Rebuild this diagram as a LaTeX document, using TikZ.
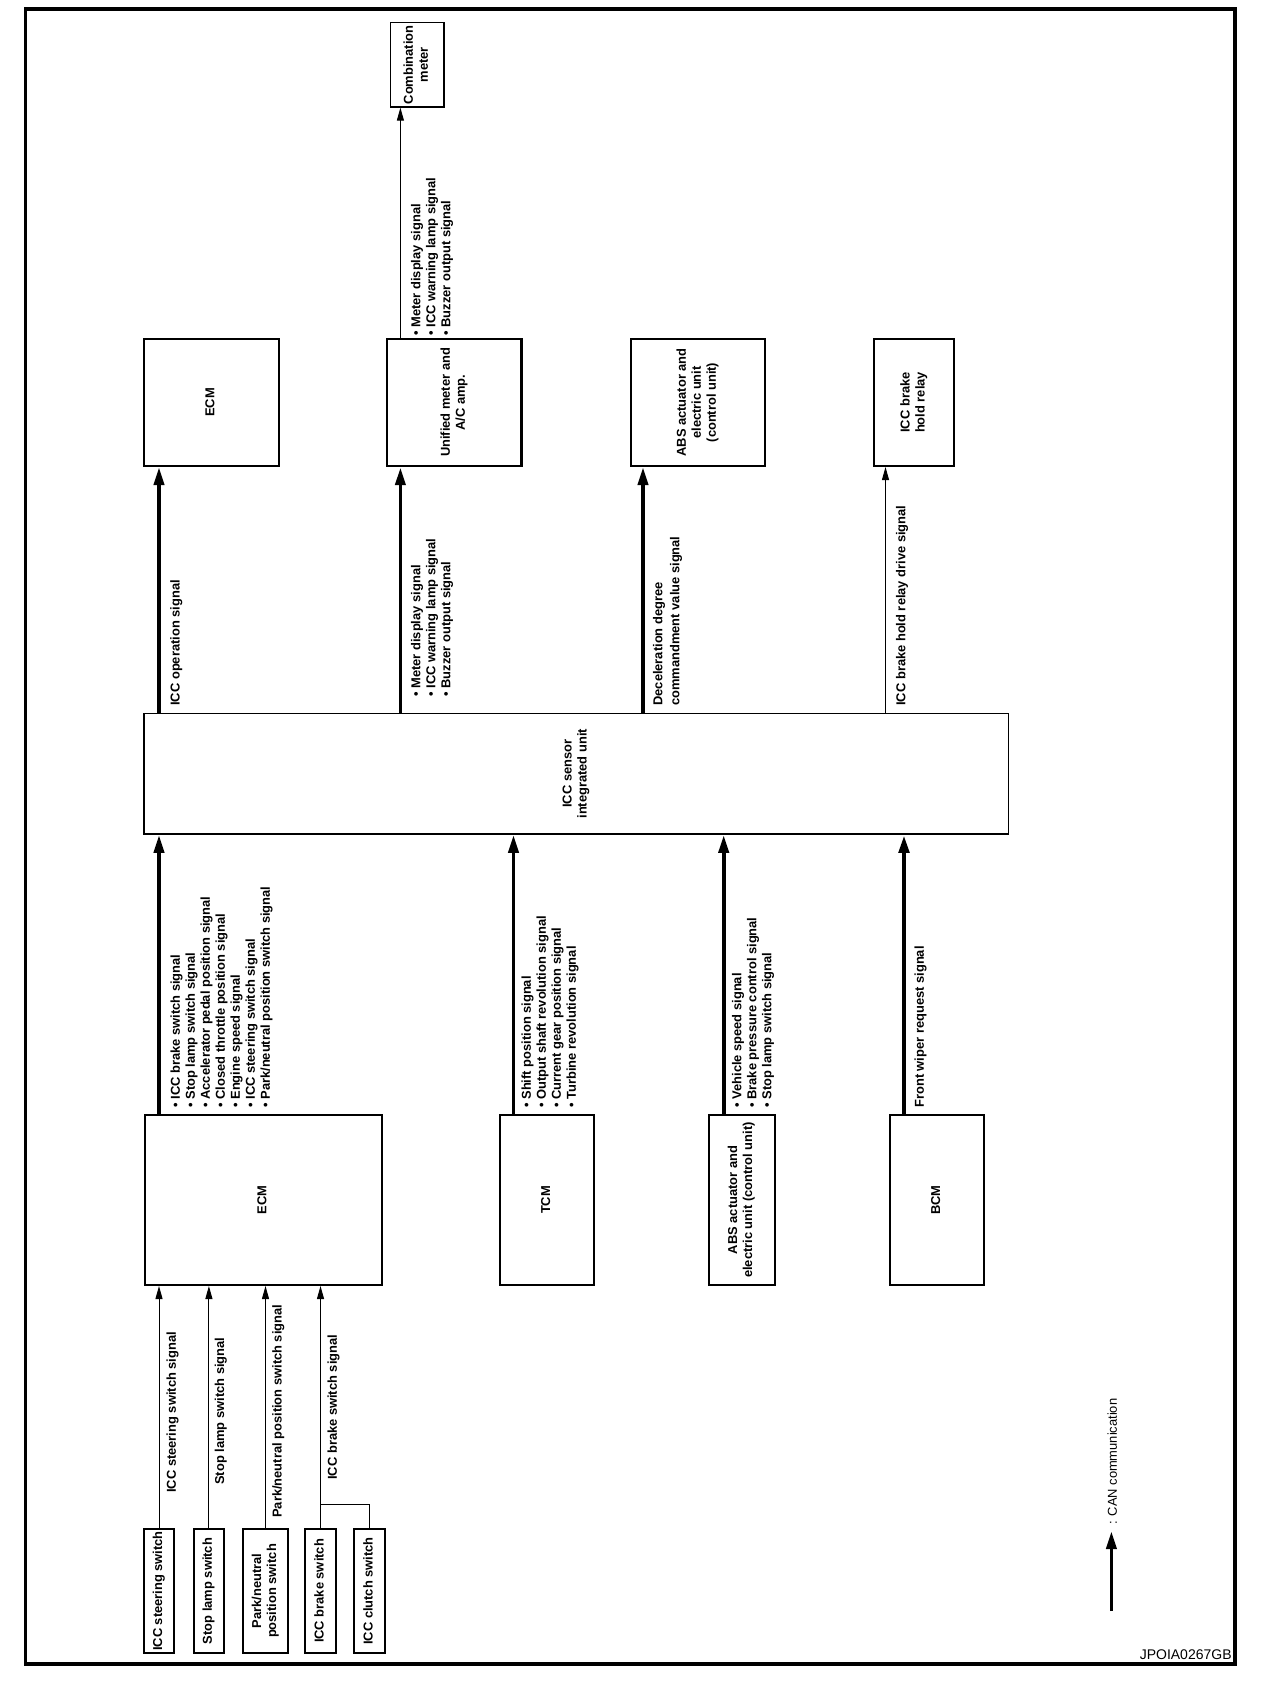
\documentclass[tikz,border=0pt]{standalone}
\usepackage{fontspec}
\setmainfont{Liberation Sans}
\usetikzlibrary{arrows.meta,calc}
\newcommand{\sigfont}{\fontsize{6.45}{7.5}\selectfont\bfseries}
\newcommand{\vtext}[1]{\rotatebox{90}{\begin{tabular}{@{}c@{}}#1\end{tabular}}}

\begin{document}
\begin{tikzpicture}[
    x=0.5pt, y=-0.5pt,
    unit/.style={rectangle, draw, line width=1pt, inner sep=0pt, font=\sigfont},
    sig/.style={anchor=north west, rotate=90, inner sep=0pt, align=left, font=\sigfont},
    can/.style={line width=1.9pt, -{Triangle[length=9pt, width=5pt]}},
    wire/.style={line width=0.5pt, -{Triangle[length=6.5pt, width=3.5pt]}}
]
    \useasboundingbox (0,0) rectangle (1280,1698);
    \draw[line width=1.65pt] (25.3,9) rectangle (1235,1664);

    % Output units
    \node[unit, line width=0.6pt, minimum width=26.7pt, minimum height=42.25pt] (comb) at (417.3,64.8) {\vtext{Combination\\meter}};
    \node[unit, minimum width=67.65pt, minimum height=63.5pt] (ecmT) at (211.4,402.5) {\vtext{ECM}};
    \node[unit, line width=1.2pt, minimum width=67.3pt, minimum height=63.5pt] (umeter) at (454.3,402.5) {\vtext{Unified meter and\\A/C amp.}};
    \node[unit, minimum width=67.2pt, minimum height=63.5pt] (absT) at (697.8,402.5) {\vtext{ABS actuator and\\electric unit\\(control unit)}};
    \node[unit, minimum width=40pt, minimum height=63.5pt] (relay) at (914,402.5) {\vtext{ICC brake\\hold relay}};

    % Integrated unit
    \node[unit, line width=0.8pt, minimum width=432.45pt, minimum height=60.3pt] (icc) at (576.2,773.7) {\vtext{ICC sensor\\integrated unit}};

    % Input units
    \node[unit, minimum width=118.3pt, minimum height=85pt] (ecmB) at (263.3,1200) {\vtext{ECM}};
    \node[unit, minimum width=47pt, minimum height=85pt] (tcm) at (547,1200) {\vtext{TCM}};
    \node[unit, minimum width=33.05pt, minimum height=85pt] (absB) at (741.7,1200) {\vtext{ABS actuator and\\electric unit (control unit)}};
    \node[unit, minimum width=47pt, minimum height=85pt] (bcm) at (937,1200) {\vtext{BCM}};

    % Switches
    \node[unit, minimum width=15.3pt, minimum height=62pt] (sw1) at (159,1591) {\vtext{ICC steering switch}};
    \node[unit, minimum width=14.85pt, minimum height=62pt] (sw2) at (208.9,1591) {\vtext{Stop lamp switch}};
    \node[unit, minimum width=22.5pt, minimum height=62pt] (sw3) at (265.5,1591) {\vtext{Park/neutral\\position switch}};
    \node[unit, minimum width=15.5pt, minimum height=62pt] (sw4) at (320.5,1591) {\vtext{ICC brake switch}};
    \node[unit, minimum width=15.5pt, minimum height=62pt] (sw5) at (369.5,1591) {\vtext{ICC clutch switch}};

    % Signal columns
    \coordinate (xe) at (159,0);
    \coordinate (xu) at (400.4,0);
    \coordinate (xa) at (643,0);
    \coordinate (xr) at (885.5,0);
    \coordinate (xt) at (513.5,0);
    \coordinate (xb) at (723.7,0);
    \coordinate (xc) at (904,0);

    % Arrows out of the integrated unit
    \draw[can] (icc.north -| xe) -- (ecmT.south -| xe);
    \draw[can] (icc.north -| xu) -- (umeter.south -| xu);
    \draw[can] (icc.north -| xa) -- (absT.south -| xa);
    \draw[wire] (icc.north -| xr) -- (relay.south -| xr);
    \draw[wire] (umeter.north -| xu) -- (comb.south -| xu);

    % Arrows into the integrated unit
    \draw[can] (ecmB.north -| xe) -- (icc.south -| xe);
    \draw[can] (tcm.north -| xt) -- (icc.south -| xt);
    \draw[can] (absB.north -| xb) -- (icc.south -| xb);
    \draw[can, line width=2.2pt] (bcm.north -| xc) -- (icc.south -| xc);

    % Switch wires
    \draw[wire] (sw1.north) -- (sw1.north |- ecmB.south);
    \draw[wire] (sw2.north) -- (sw2.north |- ecmB.south);
    \draw[wire] (sw3.north) -- (sw3.north |- ecmB.south);
    \draw[wire] (sw4.north) -- (sw4.north |- ecmB.south);
    \draw[line width=0.5pt] (sw5.north) -- ++(0,-24) -| (sw4.north);

    % Signal labels
    \node[sig] (opsig) at (170,706) {ICC operation signal};
    \node[sig] (mtrsig) at (410.5,697) {\textbullet\ Meter display signal\\\textbullet\ ICC warning lamp signal\\\textbullet\ Buzzer output signal};
    \node[sig] (combsig) at (410.5,336) {\textbullet\ Meter display signal\\\textbullet\ ICC warning lamp signal\\\textbullet\ Buzzer output signal};
    \node[sig] (decsig) at (652.5,706) {Deceleration degree\\[1pt]commandment value signal};
    \node[sig] (relsig) at (895.5,706) {ICC brake hold relay drive signal};
    \node[sig] (ecmsig) at (170,1108) {\textbullet\ ICC brake switch signal\\\textbullet\ Stop lamp switch signal\\\textbullet\ Accelerator pedal position signal\\\textbullet\ Closed throttle position signal\\\textbullet\ Engine speed signal\\\textbullet\ ICC steering switch signal\\\textbullet\ Park/neutral position switch signal};
    \node[sig] (tcmsig) at (521,1108) {\textbullet\ Shift position signal\\\textbullet\ Output shaft revolution signal\\\textbullet\ Current gear position signal\\\textbullet\ Turbine revolution signal};
    \node[sig] (abssig) at (731.5,1108) {\textbullet\ Vehicle speed signal\\\textbullet\ Brake pressure control signal\\\textbullet\ Stop lamp switch signal};
    \node[sig] (bcmsig) at (914,1108) {Front wiper request signal};
    \node[sig] (sw1sig) at (166,1493) {ICC steering switch signal};
    \node[sig] (sw2sig) at (214.5,1485) {Stop lamp switch signal};
    \node[sig] (sw3sig) at (272,1518) {Park/neutral position switch signal};
    \node[sig] (sw4sig) at (327,1480) {ICC brake switch signal};

    % Legend
    \coordinate (canS) at (1111.4,1611);
    \coordinate (canE) at (1111.4,1531);
    \draw[can] (canS) -- (canE);
    \node[sig, font=\sigfont\mdseries] (canlbl) at (1107,1525) {: CAN communication};
    \node[anchor=east, inner sep=0pt, font=\fontsize{7}{8}\selectfont] (figid) at (1232,1655) {JPOIA0267GB};
\end{tikzpicture}
\end{document}
